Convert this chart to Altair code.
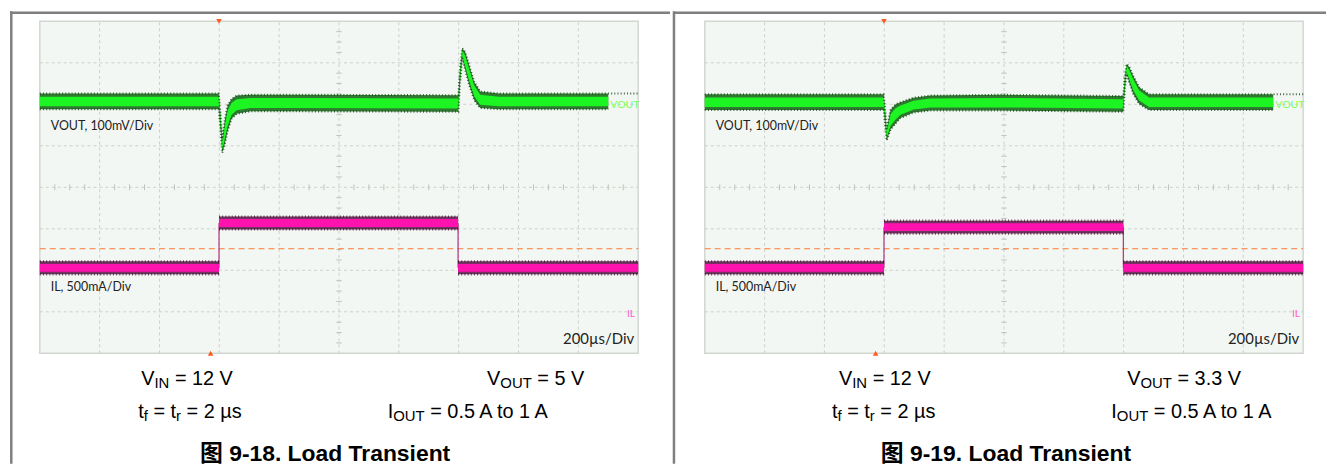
import altair as alt
import pandas as pd

# ---------------- data ----------------
GRID_T = [0, 200, 400, 600, 800, 1000, 1200, 1400, 1600, 1800, 2000]   # µs, 200 µs/div
GRID_D = [-4, -3, -2, -1, 0, 1, 2, 3, 4]                                   # divisions

# VOUT (AC deviation, mV, 100 mV/div) : time µs, centre mV, noise half-band mV
P1_VOUT_T = [0, 598, 603, 610, 618, 628, 641, 658, 704, 870, 1399, 1404, 1412, 1422, 1435, 1452, 1472, 1535, 1900]
P1_VOUT_MV = [0, 0, -40, -107, -75, -40, -18, -8, -4, -4, -5, 56, 116, 97, 64, 25, 4, 0, 0]
P1_VOUT_HW = [19, 19, 19, 17, 29, 31, 24, 22, 20, 20, 20, 19, 12, 22, 24, 22, 20, 19, 19]

P2_VOUT_T = [0, 598, 603, 608, 621, 638, 654, 698, 754, 987, 1399, 1404, 1410, 1419, 1432, 1452, 1485, 1900]
P2_VOUT_MV = [0, 0, -37, -78, -42, -28, -19, -7, -2, -1, -4, 47, 80, 66, 42, 16, 0, 0]
P2_VOUT_HW = [19, 19, 19, 14, 24, 23, 19, 18, 18, 19, 19, 17, 12, 19, 22, 20, 19, 19]

VOUT_ZERO_DIV = [2.07, 2.05]          # channel offset on screen

# IL (mA, 500 mA/div)
IL_STEP_T = [[599, 1398], [599, 1399]]
IL_LOW_MA = [500, 500]
IL_HIGH_MA = [1040, 990]
IL_HW_MA = 78
IL_ZERO_DIV = -2.94
TRIG_MA = 730
TRIG_MARK_T = [599, 599]
POS_MARK_T = [571, 571]

TITLES = ["图 9-18. Load Transient", "图 9-19. Load Transient"]
VOUT_VALUES = ["5 V", "3.3 V"]

# ---------------- layout ----------------
PX_PER_US = 0.301
PX_PER_DIV = 41.75
PANEL_W = [664, 656]
SCOPE_LEFT = [30, 31]
H = 455
Y_TOP = 4 + 10 / PX_PER_DIV
Y_BOT = Y_TOP - H / PX_PER_DIV

BG = "#f3f7f3"
GRID_C = "#cbd1cb"
CAP_FONT = "Liberation Sans, Arial, Noto Sans CJK SC, sans-serif"
SCOPE_FONT = "Lato, Open Sans, sans-serif"

AW = {' ': 278, '=': 584, '.': 278, 'V': 667, 'I': 278, 'N': 722, 'O': 778, 'U': 722,
      'T': 611, 't': 278, 'f': 278, 'r': 333, 'µ': 576, 's': 500, 'A': 667, 'o': 556}


def tw(s, size):
    return sum(AW.get(c, 556) for c in s) * size / 1000.0


ONE = pd.DataFrame({"k": [0]})


def txt(s, x, y, size, color="#000000", weight="normal", align="left", font=CAP_FONT):
    return alt.Chart(ONE).mark_text(
        text=s, align=align, baseline="alphabetic", fontSize=size, font=font,
        fontWeight=weight, color=color
    ).encode(x=alt.value(x), y=alt.value(y))


def rich(x, y, parts, size=20, sub=15, dy=3):
    layers = []
    cx = x
    for s, is_sub in parts:
        fs = sub if is_sub else size
        if s.startswith(" "):
            cx += tw(" ", fs)
            s = s[1:]
        layers.append(txt(s, cx, y + (dy if is_sub else 0), fs))
        cx += tw(s, fs)
    return layers


CAPTIONS = [
    dict(r1l=(132, [("V", 0), ("IN", 1), (" = 12 V", 0)]),
         r1r=(480, [("V", 0), ("OUT", 1), (" = " + VOUT_VALUES[0], 0)]),
         r2l=(129, [("t", 0), ("f", 1), (" = t", 0), ("r", 1), (" = 2 µs", 0)]),
         r2r=(380, [("I", 0), ("OUT", 1), (" = 0.5 A to 1 A", 0)]),
         title=317),
    dict(r1l=(166, [("V", 0), ("IN", 1), (" = 12 V", 0)]),
         r1r=(456, [("V", 0), ("OUT", 1), (" = " + VOUT_VALUES[1], 0)]),
         r2l=(159, [("t", 0), ("f", 1), (" = t", 0), ("r", 1), (" = 2 µs", 0)]),
         r2r=(440, [("I", 0), ("OUT", 1), (" = 0.5 A to 1 A", 0)]),
         title=334),
]


def panel(i):
    W = PANEL_W[i]
    d0 = -SCOPE_LEFT[i] / PX_PER_US
    d1 = d0 + W / PX_PER_US
    xs = alt.Scale(domain=[d0, d1], nice=False, zero=False)
    ys = alt.Scale(domain=[Y_BOT, Y_TOP], nice=False, zero=False)

    def X(f):
        return alt.X(f, type="quantitative", scale=xs, axis=None)

    def Y(f):
        return alt.Y(f, type="quantitative", scale=ys, axis=None)

    layers = []
    # scope background
    bg = pd.DataFrame({"t0": [GRID_T[0]], "t1": [GRID_T[-1]], "a": [GRID_D[0]], "b": [GRID_D[-1]]})
    layers.append(alt.Chart(bg).mark_rect(fill=BG, stroke="#d2d7d2", strokeWidth=1.5)
                  .encode(x=X("t0"), x2="t1", y=Y("a"), y2="b"))
    # grid
    vg = pd.DataFrame({"t": GRID_T[1:-1], "a": GRID_D[0], "b": GRID_D[-1]})
    layers.append(alt.Chart(vg).mark_rule(color=GRID_C, strokeDash=[3, 3], strokeWidth=1)
                  .encode(x=X("t"), y=Y("a"), y2="b"))
    hg = pd.DataFrame({"d": GRID_D[1:-1], "a": GRID_T[0], "b": GRID_T[-1]})
    layers.append(alt.Chart(hg).mark_rule(color=GRID_C, strokeDash=[3, 3], strokeWidth=1)
                  .encode(y=Y("d"), x=X("a"), x2="b"))
    # minor ticks on centre lines
    mv = pd.DataFrame({"d": [k / 4 for k in range(-15, 16) if k % 4 != 0]})
    mv["a"] = 1000 - 9
    mv["b"] = 1000 + 9
    layers.append(alt.Chart(mv).mark_rule(color="#bcc3bc", strokeWidth=1)
                  .encode(y=Y("d"), x=X("a"), x2="b"))
    mh = pd.DataFrame({"t": [k * 50 for k in range(1, 40) if k % 4 != 0]})
    mh["a"] = -0.07
    mh["b"] = 0.07
    layers.append(alt.Chart(mh).mark_rule(color="#bcc3bc", strokeWidth=1)
                  .encode(x=X("t"), y=Y("a"), y2="b"))
    # trigger level
    trig = IL_ZERO_DIV + TRIG_MA / 500
    tl = pd.DataFrame({"a": [GRID_T[0]], "b": [GRID_T[-1]], "d": [trig]})
    layers.append(alt.Chart(tl).mark_rule(color="#ff7b30", strokeDash=[6, 4], strokeWidth=1)
                  .encode(x=X("a"), x2="b", y=Y("d")))

    # ---- IL trace ----
    s1, s2 = IL_STEP_T[i]
    lo = IL_ZERO_DIV + IL_LOW_MA[i] / 500
    hi = IL_ZERO_DIV + IL_HIGH_MA[i] / 500
    hw = IL_HW_MA / 500
    il = pd.DataFrame({
        "t": [0, s1, s1, s2, s2, 2000],
        "c": [lo, lo, hi, hi, lo, lo],
        "seg": [0, 0, 1, 1, 2, 2],
    })
    il["lo"] = il["c"] - hw
    il["hi"] = il["c"] + hw
    il["lo2"] = il["c"] - hw * 0.6
    il["hi2"] = il["c"] + hw * 0.6
    edges = pd.DataFrame({"t": [s1, s2], "a": [lo, hi], "b": [hi, lo]})
    layers.append(alt.Chart(edges).mark_rule(color="#b2307f", strokeWidth=1.2)
                  .encode(x=X("t"), y=Y("a"), y2="b"))
    layers.append(alt.Chart(il).mark_area(color="#5a1145", opacity=0.85)
                  .encode(x=X("t"), y=Y("lo"), y2="hi", detail="seg:N"))
    layers.append(alt.Chart(il).mark_area(color="#ff12ad")
                  .encode(x=X("t"), y=Y("lo2"), y2="hi2", detail="seg:N"))
    for f in ["lo", "hi"]:
        layers.append(alt.Chart(il).mark_line(color="#2e0624", strokeWidth=2.2, strokeDash=[1, 2.2], opacity=0.7)
                      .encode(x=X("t"), y=Y(f), detail="seg:N"))

    # ---- VOUT trace ----
    T = [P1_VOUT_T, P2_VOUT_T][i]
    MV = [P1_VOUT_MV, P2_VOUT_MV][i]
    HW = [P1_VOUT_HW, P2_VOUT_HW][i]
    z = VOUT_ZERO_DIV[i]
    v = pd.DataFrame({"t": T, "mv": MV, "hw": HW})
    v["c"] = z + v["mv"] / 100
    v["lo"] = v["c"] - v["hw"] / 100
    v["hi"] = v["c"] + v["hw"] / 100
    v["lo2"] = v["c"] - v["hw"] * 0.6 / 100
    v["hi2"] = v["c"] + v["hw"] * 0.6 / 100
    layers.append(alt.Chart(v).mark_area(color="#1a6a1c", opacity=0.9)
                  .encode(x=X("t"), y=Y("lo"), y2="hi"))
    layers.append(alt.Chart(v).mark_area(color="#1cf522")
                  .encode(x=X("t"), y=Y("lo2"), y2="hi2"))
    vup = pd.concat([v, v.tail(1).assign(t=GRID_T[-1])], ignore_index=True)
    layers.append(alt.Chart(vup).mark_line(color="#0a3a0a", strokeWidth=2.0, strokeDash=[1, 2.2], opacity=0.75)
                  .encode(x=X("t"), y=Y("hi")))
    layers.append(alt.Chart(v).mark_line(color="#0a3a0a", strokeWidth=2.0, strokeDash=[1, 2.2], opacity=0.75)
                  .encode(x=X("t"), y=Y("lo")))

    # trigger / position markers
    mk = pd.DataFrame({"t": [TRIG_MARK_T[i]], "d": [GRID_D[-1]]})
    layers.append(alt.Chart(mk).mark_point(shape="triangle-down", filled=True, size=32, color="#ff5a1e", opacity=1)
                  .encode(x=X("t"), y=Y("d")))
    mk2 = pd.DataFrame({"t": [POS_MARK_T[i]], "d": [GRID_D[0]]})
    layers.append(alt.Chart(mk2).mark_point(shape="triangle-up", filled=True, size=32, color="#ff5a1e", opacity=1)
                  .encode(x=X("t"), y=Y("d")))

    # scope labels
    sl = SCOPE_LEFT[i]
    layers.append(txt("VOUT, 100mV/Div", sl + 11, 119.5, 12.5, "#222222", font=SCOPE_FONT))
    layers.append(txt("IL, 500mA/Div", sl + 11, 281, 12.5, "#222222", font=SCOPE_FONT))
    layers.append(txt("200µs/Div", sl + 598, 335, 15, "#222222", align="right", font=SCOPE_FONT))
    layers.append(txt("VOUT", sl + 574, 97.5, 10.5, "#77ff55", font=SCOPE_FONT))
    layers.append(txt("IL", sl + 599, 307, 10.5, "#ff5fcf", align="right", font=SCOPE_FONT))

    # captions
    cp = CAPTIONS[i]
    layers += rich(cp["r1l"][0], 375.5, cp["r1l"][1])
    layers += rich(cp["r1r"][0], 375.5, cp["r1r"][1])
    layers += rich(cp["r2l"][0], 409, cp["r2l"][1])
    layers += rich(cp["r2r"][0], 409, cp["r2r"][1])
    layers.append(txt(TITLES[i], cp["title"], 452, 23, weight="bold", align="center"))

    # frame lines
    layers.append(alt.Chart(ONE).mark_rule(color="#7f7f7f", strokeWidth=2.5)
                  .encode(x=alt.value(0), x2=alt.value(W), y=alt.value(1.3)))
    if i == 0:
        layers.append(alt.Chart(ONE).mark_rule(color="#7f7f7f", strokeWidth=2.5)
                      .encode(x=alt.value(1.3), y=alt.value(0), y2=alt.value(H)))
    else:
        layers.append(alt.Chart(ONE).mark_rule(color="#7f7f7f", strokeWidth=2.5)
                      .encode(x=alt.value(0), y=alt.value(0), y2=alt.value(H)))

    return alt.layer(*layers).properties(width=W, height=H)


chart = alt.hconcat(panel(0), panel(1), spacing=0).properties(
    padding=0, background="white"
).configure_view(stroke=None)

chart.save("out.html", embed_options={"renderer": "svg", "actions": False})
